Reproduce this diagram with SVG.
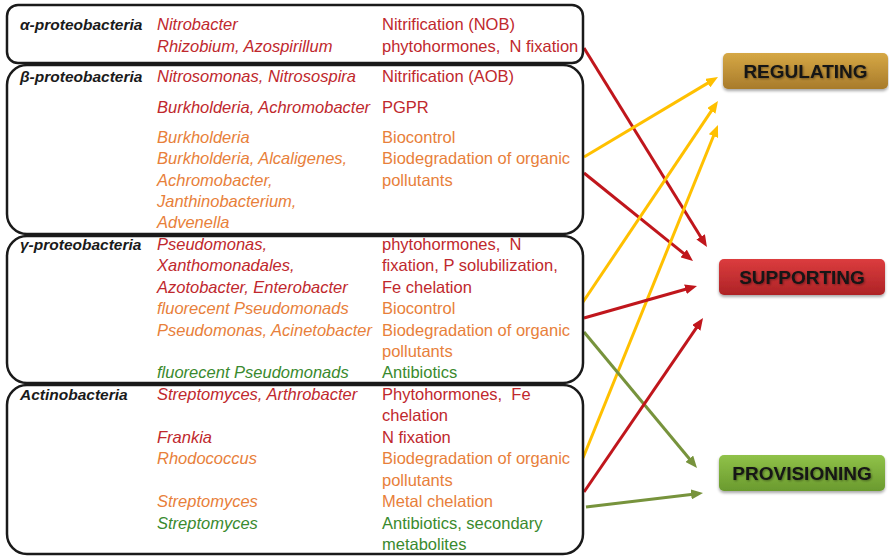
<svg xmlns="http://www.w3.org/2000/svg" width="889" height="557" viewBox="0 0 889 557">
<style>
text{font-family:"Liberation Sans",Arial,sans-serif;font-size:16.5px}
.lab{font-weight:bold;font-style:italic;fill:#1a1a1a;font-size:15.5px}
.it{font-style:italic}
.r{fill:#c0282d}
.o{fill:#e8803a}
.g{fill:#3a8a2e}
.pre{white-space:pre}
.box{fill:#fff;stroke:#1a1a1a;stroke-width:2.5}
.svc{font-weight:bold;font-size:19px;fill:#141414;text-anchor:middle}
.ar{fill:none;stroke-width:3}
</style>
<defs>
<linearGradient id="gReg" x1="0" y1="0" x2="0" y2="1"><stop offset="0" stop-color="#d6a845"/><stop offset="1" stop-color="#a87b2b"/></linearGradient>
<linearGradient id="gSup" x1="0" y1="0" x2="0" y2="1"><stop offset="0" stop-color="#dc3c3e"/><stop offset="1" stop-color="#ad2326"/></linearGradient>
<linearGradient id="gPro" x1="0" y1="0" x2="0" y2="1"><stop offset="0" stop-color="#90c249"/><stop offset="1" stop-color="#6a9a2e"/></linearGradient>
<filter id="sh" x="-10%" y="-20%" width="120%" height="150%"><feGaussianBlur in="SourceAlpha" stdDeviation="1.5"/><feOffset dy="2" result="b"/><feComponentTransfer><feFuncA type="linear" slope="0.35"/></feComponentTransfer><feMerge><feMergeNode/><feMergeNode in="SourceGraphic"/></feMerge></filter>
<filter id="tsh" x="-10%" y="-30%" width="120%" height="160%"><feGaussianBlur in="SourceAlpha" stdDeviation="1"/><feOffset dx="1" dy="1"/><feComponentTransfer><feFuncA type="linear" slope="0.4"/></feComponentTransfer><feMerge><feMergeNode/><feMergeNode in="SourceGraphic"/></feMerge></filter>
<marker id="mR" markerUnits="userSpaceOnUse" markerWidth="12" markerHeight="10" viewBox="0 0 12 10" refX="2" refY="5" orient="auto"><path d="M0,0 L12,5 L0,10 z" fill="#c0161c"/></marker>
<marker id="mY" markerUnits="userSpaceOnUse" markerWidth="12" markerHeight="10" viewBox="0 0 12 10" refX="2" refY="5" orient="auto"><path d="M0,0 L12,5 L0,10 z" fill="#ffc000"/></marker>
<marker id="mG" markerUnits="userSpaceOnUse" markerWidth="12" markerHeight="10" viewBox="0 0 12 10" refX="2" refY="5" orient="auto"><path d="M0,0 L12,5 L0,10 z" fill="#77933c"/></marker>
</defs>

<g id="connectors">
<line class="ar" stroke="#c0161c" x1="584" y1="48" x2="701.7" y2="238.5" marker-end="url(#mR)"/>
<line class="ar" stroke="#ffc000" x1="584" y1="157" x2="709.4" y2="82.1" marker-end="url(#mY)"/>
<line class="ar" stroke="#c0161c" x1="584" y1="173" x2="685.2" y2="254.7" marker-end="url(#mR)"/>
<line class="ar" stroke="#ffc000" x1="583" y1="302" x2="712.4" y2="109.3" marker-end="url(#mY)"/>
<line class="ar" stroke="#ffc000" x1="583" y1="458" x2="714.2" y2="134.3" marker-end="url(#mY)"/>
<line class="ar" stroke="#c0161c" x1="584" y1="318" x2="687.4" y2="288.7" marker-end="url(#mR)"/>
<line class="ar" stroke="#77933c" x1="584" y1="332" x2="690.6" y2="460.3" marker-end="url(#mG)"/>
<line class="ar" stroke="#c0161c" x1="584" y1="492" x2="697.4" y2="326.3" marker-end="url(#mR)"/>
<line class="ar" stroke="#77933c" x1="586" y1="507" x2="693.1" y2="494.2" marker-end="url(#mG)"/>
</g>

<g id="alpha">
<rect class="box" x="7" y="5" width="576" height="58" rx="11"/>
<text class="lab" x="20" y="30">α-proteobacteria</text>
<text class="it r" x="157" y="30">Nitrobacter</text>
<text class="r" x="382" y="30">Nitrification (NOB)</text>
<text class="it r" x="157" y="52">Rhizobium, Azospirillum</text>
<text class="r pre" x="382" y="52">phytohormones,  N fixation</text>
</g>

<g id="beta">
<rect class="box" x="7" y="65" width="576" height="169" rx="20"/>
<text class="lab" x="20" y="82">β-proteobacteria</text>
<text class="it r" x="157" y="82">Nitrosomonas, Nitrosospira</text>
<text class="r" x="382" y="82">Nitrification (AOB)</text>
<text class="it r" x="157" y="113">Burkholderia, Achromobacter</text>
<text class="r" x="382" y="113">PGPR</text>
<text class="it o" x="157" y="143">Burkholderia</text>
<text class="o" x="382" y="143">Biocontrol</text>
<text class="it o" x="157" y="164">Burkholderia, Alcaligenes,</text>
<text class="o" x="382" y="164">Biodegradation of organic</text>
<text class="it o" x="157" y="186">Achromobacter,</text>
<text class="o" x="382" y="186">pollutants</text>
<text class="it o" x="157" y="207">Janthinobacterium,</text>
<text class="it o" x="157" y="228">Advenella</text>
</g>

<g id="gamma">
<rect class="box" x="7" y="236" width="576" height="147" rx="20"/>
<text class="lab" x="20" y="250">γ-proteobacteria</text>
<text class="it r" x="157" y="250">Pseudomonas,</text>
<text class="r pre" x="382" y="250">phytohormones,  N</text>
<text class="it r" x="157" y="271">Xanthomonadales,</text>
<text class="r" x="382" y="271">fixation, P solubilization,</text>
<text class="it r" x="157" y="293">Azotobacter, Enterobacter</text>
<text class="r" x="382" y="293">Fe chelation</text>
<text class="it o" x="157" y="314">fluorecent Pseudomonads</text>
<text class="o" x="382" y="314">Biocontrol</text>
<text class="it o" x="157" y="336">Pseudomonas, Acinetobacter</text>
<text class="o" x="382" y="336">Biodegradation of organic</text>
<text class="o" x="382" y="357">pollutants</text>
<text class="it g" x="157" y="378">fluorecent Pseudomonads</text>
<text class="g" x="382" y="378">Antibiotics</text>
</g>

<g id="actino">
<rect class="box" x="7" y="385" width="576" height="169" rx="20"/>
<text class="lab" x="20" y="400">Actinobacteria</text>
<text class="it r" x="157" y="400">Streptomyces, Arthrobacter</text>
<text class="r pre" x="382" y="400">Phytohormones,  Fe</text>
<text class="r" x="382" y="421">chelation</text>
<text class="it r" x="157" y="443">Frankia</text>
<text class="r" x="382" y="443">N fixation</text>
<text class="it o" x="157" y="464">Rhodococcus</text>
<text class="o" x="382" y="464">Biodegradation of organic</text>
<text class="o" x="382" y="486">pollutants</text>
<text class="it o" x="157" y="507">Streptomyces</text>
<text class="o" x="382" y="507">Metal chelation</text>
<text class="it g" x="157" y="529">Streptomyces</text>
<text class="g" x="382" y="529">Antibiotics, secondary</text>
<text class="g" x="382" y="550">metabolites</text>
</g>

<g id="regulating">
<rect x="723" y="53" width="165" height="36" rx="5" fill="url(#gReg)" filter="url(#sh)"/>
<text class="svc" x="805.5" y="78" filter="url(#tsh)">REGULATING</text>
</g>
<g id="supporting">
<rect x="719" y="259" width="166" height="36" rx="5" fill="url(#gSup)" filter="url(#sh)"/>
<text class="svc" x="802" y="284" filter="url(#tsh)">SUPPORTING</text>
</g>
<g id="provisioning">
<rect x="719" y="455" width="166" height="36" rx="5" fill="url(#gPro)" filter="url(#sh)"/>
<text class="svc" x="802" y="480" filter="url(#tsh)">PROVISIONING</text>
</g>
</svg>
